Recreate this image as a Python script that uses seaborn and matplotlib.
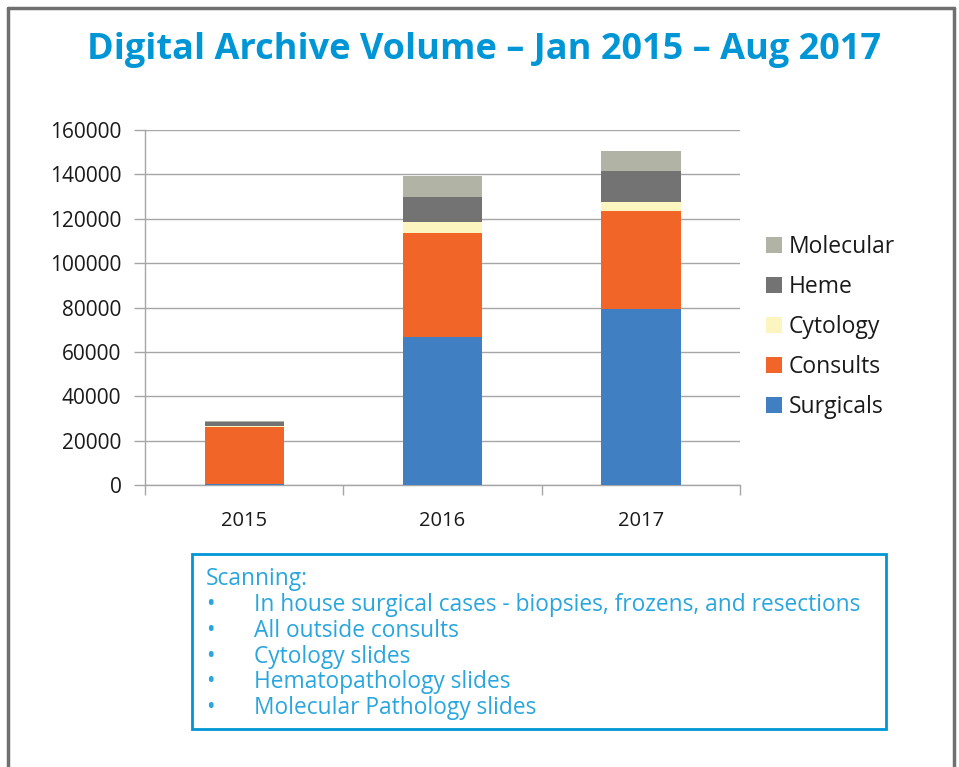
import numpy as np
import pandas as pd
import matplotlib
matplotlib.use("Agg")
import matplotlib.pyplot as plt
from matplotlib.patches import Patch, Rectangle
from matplotlib.lines import Line2D
import seaborn as sns

years = ["2015", "2016", "2017"]
surgicals = [500, 66800, 79300]
consults = [25800, 46900, 44200]
cytology = [400, 4700, 4200]
heme = [1700, 11300, 14000]
molecular = [300, 9700, 8800]

series_names = ["Surgicals", "Consults", "Cytology", "Heme", "Molecular"]
series_values = [surgicals, consults, cytology, heme, molecular]
series_colors = ["#3F7FC2", "#F26529", "#FDF5BF", "#737373", "#B1B3A5"]
y_ticks = [0, 20000, 40000, 60000, 80000, 100000, 120000, 140000, 160000]
box_lines = ["In house surgical cases - biopsies, frozens, and resections",
             "All outside consults", "Cytology slides",
             "Hematopathology slides", "Molecular Pathology slides"]

sns.set_style("white")
plt.rcParams["font.family"] = ["Open Sans", "DejaVu Sans"]

fig = plt.figure(figsize=(9.59, 7.67), dpi=100)
ax = fig.add_axes([145/959, 1-485/767, 595/959, 355/767])

cum = np.zeros(len(years))
cums = []
for vals in series_values:
    cum = cum + np.array(vals)
    cums.append(cum.copy())

# draw from top of stack downwards so lower layers overdraw
for name, c, color in reversed(list(zip(series_names, cums, series_colors))):
    d = pd.DataFrame({"year": years, "val": c})
    sns.barplot(data=d, x="year", y="val", color=color, width=0.4,
                saturation=1, ax=ax, edgecolor="none", linewidth=0, zorder=3)

ax.set_xlim(-0.5, 2.5)
ax.set_ylim(0, 160000)
ax.set_yticks(y_ticks)
ax.set_yticklabels([str(t) for t in y_ticks])
ax.set_xlabel("")
ax.set_ylabel("")
ax.grid(axis="y", color="#A6A6A6", linewidth=1, zorder=0)
ax.set_axisbelow(True)
for s in ["top", "right"]:
    ax.spines[s].set_visible(False)
for s in ["left", "bottom"]:
    ax.spines[s].set_color("#A6A6A6")
    ax.spines[s].set_linewidth(1)
ax.tick_params(axis="y", which="major", length=8, color="#A6A6A6", width=1,
               labelsize=15, labelcolor="#1a1a1a", pad=9, left=True)
ax.tick_params(axis="x", which="major", length=0, labelsize=14.5,
               labelcolor="#1a1a1a", pad=19)
ax.set_xticks([-0.5, 0.5, 1.5, 2.5], minor=True)
ax.tick_params(axis="x", which="minor", length=7, color="#A6A6A6", width=1,
               bottom=True, direction="out")

handles = [Patch(facecolor=col, edgecolor="none", label=n)
           for n, col in zip(series_names, series_colors)]
handles = handles[::-1]
leg = fig.legend(handles=handles, loc="upper left",
                 bbox_to_anchor=(766/959, 1-235/767), frameon=False,
                 fontsize=16.5, handlelength=0.7, handleheight=0.7,
                 handletextpad=0.3, labelspacing=0.7, borderaxespad=0,
                 borderpad=0)
for t in leg.get_texts():
    t.set_color("#1a1a1a")

fig.text(484/959, 1-50/767, "Digital Archive Volume \u2013 Jan 2015 \u2013 Aug 2017",
         ha="center", va="center", fontsize=26, fontweight="bold",
         color="#0096D6")

# outer border
for xs, ys in [([8, 8], [0, 759]), ([8, 954], [759, 759]), ([954, 954], [759, 0])]:
    fig.add_artist(Line2D([x/959 for x in xs], [y/767 for y in ys],
                          color="#707070", linewidth=2.5, transform=fig.transFigure))

# text box
fig.add_artist(Rectangle((192/959, 1-729/767), (886-192)/959, (729-554)/767,
                         transform=fig.transFigure, fill=False,
                         edgecolor="#0096D6", linewidth=2))
tcol = "#2AA6DE"
fs = 16.4
fig.text(206/959, 1-579/767, "Scanning:", ha="left", va="center",
         fontsize=fs, color=tcol)
for i, line in enumerate(box_lines):
    y = 1 - (605 + i*25.8)/767
    fig.text(206/959, y, "\u2022", ha="left", va="center", fontsize=fs, color=tcol)
    fig.text(254/959, y, line, ha="left", va="center", fontsize=fs, color=tcol)

fig.savefig("out.png", dpi=100)
